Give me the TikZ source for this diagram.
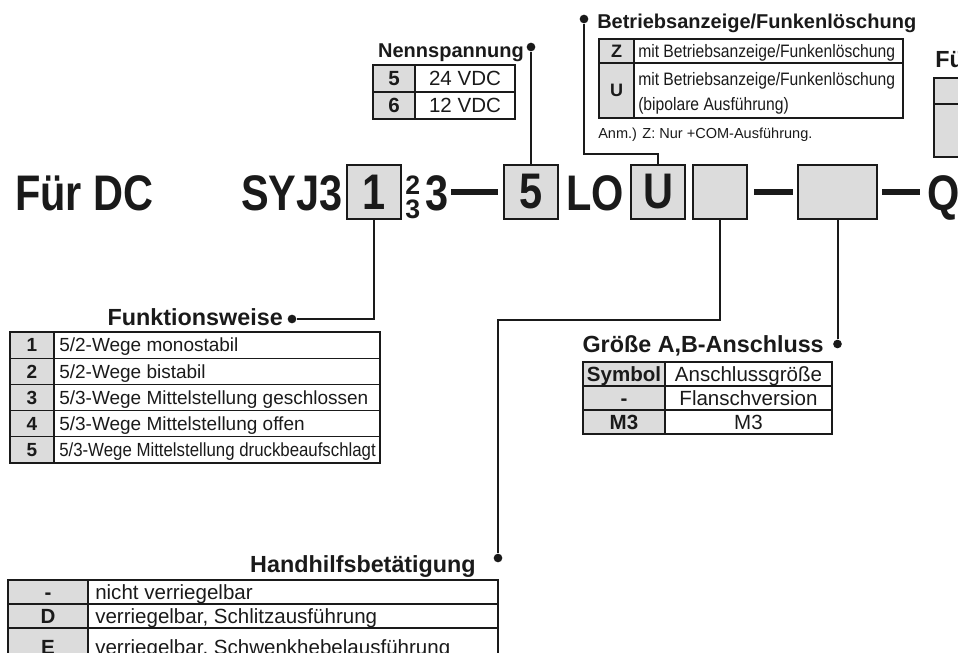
\documentclass[tikz,border=0pt]{standalone}
\usepackage{fontspec}
\usepackage{graphicx}
\setmainfont{Liberation Sans}
\newfontfamily\bigf{Liberation Sans}[FakeStretch=0.83]
\newfontfamily\narrowf{Liberation Sans}[FakeStretch=0.87]
\definecolor{cellgray}{HTML}{DCDCDC}
\definecolor{ink}{HTML}{1A1A1A}
\begin{document}
\begin{tikzpicture}[x=0.75pt,y=-0.75pt,
  bigtxt/.style={anchor=base west, inner sep=0pt, text=ink, font={\bigf\bfseries\fontsize{37.5pt}{40pt}\selectfont}},
  supsub/.style={anchor=base west, inner sep=0pt, text=ink, font={\bfseries\fontsize{20pt}{22pt}\selectfont}},
  codebox/.style={draw=ink, fill=cellgray, line width=1.5pt, minimum width=40.5pt, minimum height=40.5pt, inner sep=0pt, text=ink, font={\bigf\bfseries\fontsize{37.5pt}{40pt}\selectfont}},
  dashline/.style={draw=ink, line width=3.8pt},
  conn/.style={draw=ink, line width=1.5pt},
  dot/.style={circle, fill=ink, inner sep=0pt, minimum size=6.5pt},
  headA/.style={inner sep=0pt, text=ink, font={\bfseries\fontsize{15pt}{18pt}\selectfont}},
  headB/.style={inner sep=0pt, text=ink, font={\bfseries\fontsize{17.5pt}{20pt}\selectfont}},
  tline/.style={draw=ink, line width=0.9pt},
  topline/.style={draw=ink, line width=1.6pt},
  cF/.style={inner sep=0pt, anchor=base, text=ink, font={\fontsize{14.25pt}{17pt}\selectfont}},
  cN/.style={inner sep=0pt, anchor=base, text=ink, font={\fontsize{15.4pt}{18pt}\selectfont}},
  cB/.style={inner sep=0pt, anchor=base, text=ink, font={\narrowf\fontsize{13.5pt}{18pt}\selectfont}},
  cG/.style={inner sep=0pt, anchor=base, text=ink, font={\fontsize{15.4pt}{18pt}\selectfont}},
  cH/.style={inner sep=0pt, anchor=base, text=ink, font={\fontsize{15.4pt}{18pt}\selectfont}},
  anm/.style={inner sep=0pt, anchor=west, text=ink, font={\fontsize{10.9pt}{13pt}\selectfont}}
]
\useasboundingbox (0,0) rectangle (958,653);
\clip (0,0) rectangle (958,653);

% ---------- main code row ----------
\node[bigtxt] (fdc) at (15,210) {Für DC};
\node[bigtxt] (syj) at (241,210) {SYJ3};
\node[codebox] (b1) at (374,192) {1};
\node[supsub] (sup2) at (405,194) {2};
\node[supsub] (sub3) at (405,218) {3};
\node[bigtxt] (three) at (425.5,210) {3};
\draw[dashline] (451,192) -- (498,192);
\node[codebox] (b5) at (531,192) {5};
\node[bigtxt] (lo) at (566,210) {LO};
\node[codebox] (bU) at (658,192) {U};
\node[codebox] (bE) at (719.5,192) {};
\draw[dashline] (754,192) -- (793,192);
\node[codebox, minimum width=59.25pt] (bW) at (837.5,192) {};
\draw[dashline] (882,192) -- (920,192);
\node[bigtxt] (q) at (927,210) {Q};

% ---------- dots ----------
\node[dot] (dF) at (292,319) {};
\node[dot] (dN) at (531,47) {};
\node[dot] (dB) at (584,19) {};
\node[dot] (dH) at (498,558) {};
\node[dot] (dG) at (837.5,344) {};

% ---------- connectors ----------
\draw[conn] (b1.south) |- (dF);
\draw[conn] (b5.north) -- (dN);
\draw[conn] (bU.north) -- ++(0,-10) -| (dB);
\draw[conn] (bE.south) -- ++(0,100) -| (dH);
\draw[conn] (bW.south) -- (dG);

% ---------- Nennspannung ----------
\node[headA, anchor=base east] (hN) at (524,57) {Nennspannung};
\fill[cellgray] (373,65) rectangle (415,119);
\draw[tline] (373,65) rectangle (515,119);
\draw[tline] (373,92) -- (515,92);
\draw[tline] (415,65) -- (415,119);
\node[cN, font={\bfseries\fontsize{15.4pt}{18pt}\selectfont}] (n5) at (394,85.8) {5};
\node[cN] (n5t) at (465,85.8) {24 VDC};
\node[cN, font={\bfseries\fontsize{15.4pt}{18pt}\selectfont}] (n6) at (394,112.8) {6};
\node[cN] (n6t) at (465,112.8) {12 VDC};

% ---------- Betriebsanzeige ----------
\node[headA, anchor=base west] (hB) at (597,28) {Betriebsanzeige/Funkenlöschung};
\fill[cellgray] (599,39) rectangle (634,118);
\draw[tline] (599,39) rectangle (903,118);
\draw[tline] (599,63) -- (903,63);
\draw[tline] (634,39) -- (634,118);
\node[cB, font={\bfseries\fontsize{13.5pt}{18pt}\selectfont}] (bz) at (616.5,57.5) {Z};
\node[cB, anchor=base west] (bzt) at (638,57.5) {mit Betriebsanzeige/Funkenlöschung};
\node[cB, font={\bfseries\fontsize{13.5pt}{18pt}\selectfont}] (bu) at (616.5,96) {U};
\node[cB, anchor=base west] (but1) at (638,85.5) {mit Betriebsanzeige/Funkenlöschung};
\node[cB, anchor=base west] (but2) at (638,110.5) {(bipolare Ausführung)};
\node[anm] (anmB) at (598,135) {Anm.) Z: Nur +COM-Ausführung.};

% ---------- Fü (cut off) ----------
\node[headB, anchor=base west] (hFu) at (935,67) {Fü};
\fill[cellgray] (934,78) rectangle (990,157);
\draw[tline] (934,78) rectangle (990,157);
\draw[tline] (934,104) -- (990,104);

% ---------- Funktionsweise ----------
\node[headB, anchor=base east] (hF) at (283,325) {Funktionsweise};
\fill[cellgray] (10,332) rectangle (54,463);
\draw[tline] (10,332) rectangle (380,463);
\foreach \yy in {358.2,384.4,410.6,436.8} \draw[tline] (10,\yy) -- (380,\yy);
\draw[tline] (54,332) -- (54,463);
\draw[topline] (10,332) -- (380,332);
\node[cF, font={\bfseries\fontsize{14.25pt}{17pt}\selectfont}] (f1) at (32,351.9) {1};
\node[cF, anchor=base west] (f1t) at (59,351.9) {5/2-Wege monostabil};
\node[cF, font={\bfseries\fontsize{14.25pt}{17pt}\selectfont}] (f2) at (32,378.1) {2};
\node[cF, anchor=base west] (f2t) at (59,378.1) {5/2-Wege bistabil};
\node[cF, font={\bfseries\fontsize{14.25pt}{17pt}\selectfont}] (f3) at (32,404.3) {3};
\node[cF, anchor=base west] (f3t) at (59,404.3) {5/3-Wege Mittelstellung geschlossen};
\node[cF, font={\bfseries\fontsize{14.25pt}{17pt}\selectfont}] (f4) at (32,430.5) {4};
\node[cF, anchor=base west] (f4t) at (59,430.5) {5/3-Wege Mittelstellung offen};
\node[cF, font={\bfseries\fontsize{14.25pt}{17pt}\selectfont}] (f5) at (32,456.7) {5};
\node[cF, anchor=base west] (f5t) at (59,456.7) {\scalebox{0.885}[1]{5/3-Wege Mittelstellung druckbeaufschlagt}};

% ---------- Größe A,B-Anschluss ----------
\node[headB, anchor=base east] (hG) at (824,352) {Größe A,B-Anschluss};
\fill[cellgray] (583,362) rectangle (665,434);
\draw[tline] (583,362) rectangle (832,434);
\draw[tline] (583,386) -- (832,386);
\draw[tline] (583,410) -- (832,410);
\draw[tline] (665,362) -- (665,434);
\draw[topline] (583,362) -- (832,362);
\node[cG, font={\bfseries\fontsize{15.4pt}{18pt}\selectfont}] (gs) at (624,381.3) {Symbol};
\node[cG] (gst) at (748.5,381.3) {Anschlussgröße};
\node[cG, font={\bfseries\fontsize{15.4pt}{18pt}\selectfont}] (gm) at (624,405.3) {-};
\node[cG] (gmt) at (748.5,405.3) {Flanschversion};
\node[cG, font={\bfseries\fontsize{15.4pt}{18pt}\selectfont}] (g3) at (624,429.3) {M3};
\node[cG] (g3t) at (748.5,429.3) {M3};

% ---------- Handhilfsbetätigung ----------
\node[headB, anchor=base east] (hH) at (476,572) {Handhilfsbetätigung};
\fill[cellgray] (8,580) rectangle (88,680);
\draw[tline] (8,580) rectangle (498,680);
\draw[tline] (8,604) -- (498,604);
\draw[tline] (8,628) -- (498,628);
\draw[tline] (88,580) -- (88,680);
\draw[topline] (8,580) -- (498,580);
\node[cH, font={\bfseries\fontsize{15.4pt}{18pt}\selectfont}] (hm) at (48,599.3) {-};
\node[cH, anchor=base west] (hmt) at (95,599.3) {nicht verriegelbar};
\node[cH, font={\bfseries\fontsize{15.4pt}{18pt}\selectfont}] (hd) at (48,623.3) {D};
\node[cH, anchor=base west] (hdt) at (95,623.3) {verriegelbar, Schlitzausführung};
\node[cH, font={\bfseries\fontsize{15.4pt}{18pt}\selectfont}] (he) at (48,654) {E};
\node[cH, anchor=base west] (het) at (95,654) {verriegelbar, Schwenkhebelausführung};
\end{tikzpicture}
\end{document}
